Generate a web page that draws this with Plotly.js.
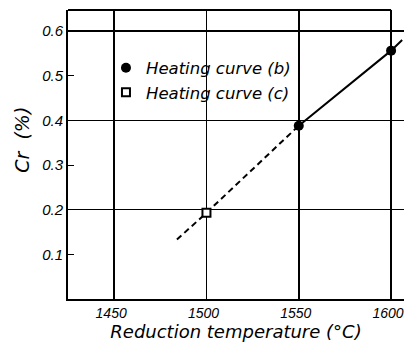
<!DOCTYPE html>
<html>
<head>
<meta charset="utf-8">
<script src="https://cdn.plot.ly/plotly-3.0.1.min.js"></script>
<style>html,body{margin:0;padding:0;background:#fff;}#chart{width:405px;height:349px;}</style>
</head>
<body>
<div id="chart"></div>
<script>
// Heating curve (b): solid line and filled circles
const tempB = [1550, 1600, 1606];
const crB = [0.388, 0.556, 0.58];
const tempBPoints = [1550, 1600];
const crBPoints = [0.388, 0.556];
// Heating curve (c): dashed line and open square
const tempC = [1484, 1500, 1550];
const crC = [0.133, 0.193, 0.388];
const tempCPoints = [1500];
const crCPoints = [0.193];
// Axis ticks
const xTicks = [1450, 1500, 1550, 1600];
const xTickLabels = ['1450', '1500', '1550', '1600'];
const yTicks = [0.1, 0.2, 0.3, 0.4, 0.5, 0.6];
const yTickLabels = ['0.1', '0.2', '0.3', '0.4', '0.5', '0.6'];
const yGrid = [0.2, 0.4, 0.6];

const italic = (size, fam) => ({family: fam || 'DejaVu Sans, sans-serif', size: size, color: '#000', style: 'italic'});
const tickFam = 'Liberation Sans, sans-serif';

const traces = [
  {x: tempB, y: crB, mode: 'lines', line: {color: '#000', width: 2}, showlegend: false, hoverinfo: 'skip'},
  {x: tempC, y: crC, mode: 'lines', line: {color: '#000', width: 2, dash: '6px,4px'}, showlegend: false, hoverinfo: 'skip'},
  {x: tempBPoints, y: crBPoints, mode: 'markers', name: 'Heating curve (b)', cliponaxis: false,
   marker: {symbol: 'circle', size: 10, color: '#000'}},
  {x: tempCPoints, y: crCPoints, mode: 'markers', name: 'Heating curve (c)', cliponaxis: false,
   marker: {symbol: 'square', size: 8, color: '#fff', line: {color: '#000', width: 2}}},
  {x: [1425], y: [0], yaxis: 'y2', mode: 'markers', marker: {opacity: 0}, showlegend: false, hoverinfo: 'skip'}
];

const layout = {
  width: 405, height: 349,
  margin: {l: 68, r: 1, t: 10, b: 50},
  paper_bgcolor: '#fff', plot_bgcolor: '#fff',
  showlegend: true,
  legend: {x: 0.113, y: 0.86, xanchor: 'left', yanchor: 'top', bgcolor: 'rgba(0,0,0,0)',
           font: italic(16.5), itemwidth: 30, tracegroupgap: 0},
  xaxis: {
    range: [1425, 1607], tickmode: 'array', tickvals: xTicks, ticktext: xTickLabels,
    showgrid: true, gridcolor: '#000', gridwidth: 1.5, zeroline: false,
    showline: true, linecolor: '#000', linewidth: 2, ticks: '',
    ticklabeloverflow: 'allow', ticklabelshift: -3,
    tickfont: italic(14, tickFam),
    title: {text: 'Reduction temperature (°C)', font: italic(18), standoff: 6}
  },
  yaxis: {
    range: [0, 0.647], tickmode: 'array', tickvals: yTicks, ticktext: yTickLabels,
    showgrid: false, zeroline: false, showline: true, linecolor: '#000', linewidth: 2,
    ticks: 'inside', ticklen: 6, tickcolor: '#000', tickwidth: 1,
    tickfont: italic(15, tickFam)
  },
  yaxis2: {
    overlaying: 'y', range: [0, 0.647], tickmode: 'array', tickvals: yGrid,
    showticklabels: false, showgrid: true, gridcolor: '#000', gridwidth: 1.5,
    zeroline: false, showline: false, ticks: ''
  },
  annotations: [
    {text: 'Cr  (%)', xref: 'paper', yref: 'paper', x: -0.137, y: 0.551, textangle: -90,
     showarrow: false, font: italic(19), xanchor: 'center', yanchor: 'middle'}
  ],
  shapes: [
    {type: 'line', xref: 'x', yref: 'paper', x0: 1425, x1: 1600, y0: 1, y1: 1, line: {color: '#000', width: 2}}
  ]
};

Plotly.newPlot('chart', traces, layout, {displayModeBar: false, staticPlot: true});
</script>
</body>
</html>
